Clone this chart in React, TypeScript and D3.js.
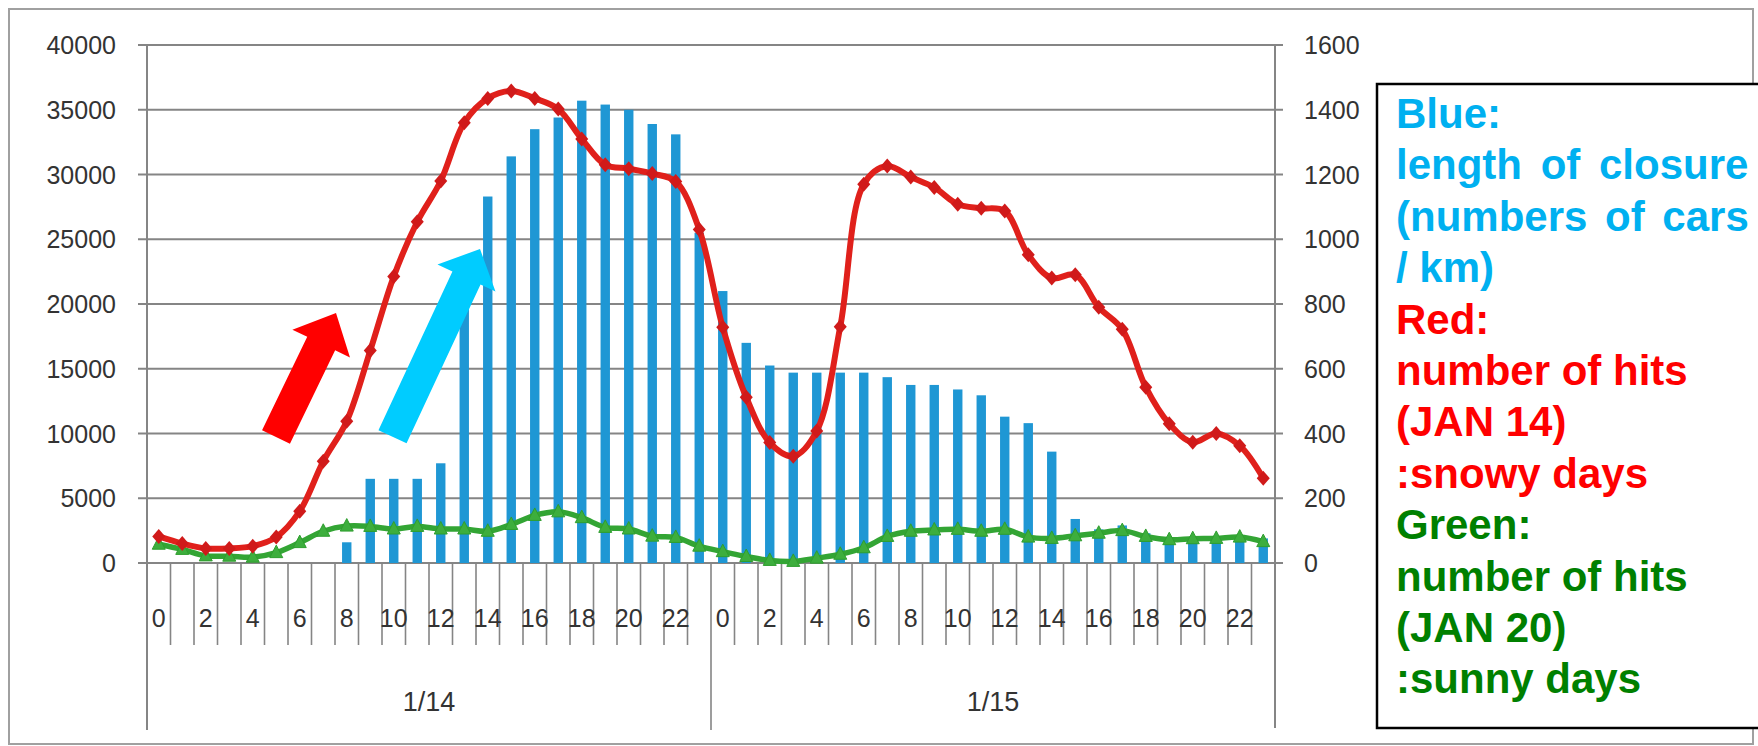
import React from "react";
import * as d3 from "d3";

const dayLabels = ["1/14", "1/15"];
const hourLabels = [
  "0", "1", "2", "3", "4", "5", "6", "7", "8", "9", "10", "11",
  "12", "13", "14", "15", "16", "17", "18", "19", "20", "21", "22", "23",
];
const categories = dayLabels.flatMap((d) => hourLabels.map((h) => `${d} ${h}`));

// Blue bars: length of closure (left axis)
const closure = [
  0, 0, 0, 0, 0, 0, 0, 0, 1600, 6500, 6500, 6500, 7700, 22000, 28300, 31400,
  33500, 34400, 35700, 35400, 35000, 33900, 33100, 25500,
  21000, 17000, 15250, 14700, 14700, 14700, 14700, 14350, 13750, 13750, 13400, 12950,
  11300, 10800, 8600, 3400, 2600, 2900, 2300, 2000, 2000, 2000, 2100, 1900,
];
// Red: number of hits JAN 14 (right axis)
const snowy = [
  82, 60, 45, 45, 52, 80, 160, 314, 438, 656, 885, 1054, 1180, 1360, 1435, 1458,
  1435, 1402, 1310, 1230, 1218, 1203, 1178, 1030,
  728, 512, 372, 330, 408, 730, 1170, 1226, 1192, 1160, 1108, 1096,
  1087, 952, 880, 890, 790, 722, 543, 430, 373, 400, 362, 262,
];
// Green: number of hits JAN 20 (right axis)
const sunny = [
  58, 42, 22, 21, 18, 32, 63, 98, 114, 113, 105, 113, 105, 105, 98, 119,
  147, 158, 140, 110, 105, 83, 79, 52,
  35, 20, 8, 5, 15, 27, 47, 82, 98, 102, 104, 98,
  104, 80, 76, 84, 92, 100, 82, 72, 75, 76, 80, 66,
];
const leftTicks = [0, 5000, 10000, 15000, 20000, 25000, 30000, 35000, 40000];
const rightTicks = [0, 200, 400, 600, 800, 1000, 1200, 1400, 1600];

const legendLines = [
  { t: "Blue:", c: "#00B0F0", ws: 0 },
  { t: "length of closure", c: "#00B0F0", ws: 7 },
  { t: "(numbers of cars", c: "#00B0F0", ws: 6 },
  { t: "/ km)", c: "#00B0F0", ws: 0 },
  { t: "Red:", c: "#FF0000", ws: 0 },
  { t: "number of hits", c: "#FF0000", ws: 0 },
  { t: "(JAN 14)", c: "#FF0000", ws: 0 },
  { t: ":snowy days", c: "#FF0000", ws: 0 },
  { t: "Green:", c: "#008000", ws: 0 },
  { t: "number of hits", c: "#008000", ws: 0 },
  { t: "(JAN 20)", c: "#008000", ws: 0 },
  { t: ":sunny days", c: "#008000", ws: 0 },
];

function arrowPath(tx: number, ty: number, hx: number, hy: number, sw: number, hw: number, hl: number) {
  const dx = hx - tx, dy = hy - ty;
  const len = Math.hypot(dx, dy);
  const ux = dx / len, uy = dy / len;
  const px = -uy, py = ux;
  const bx = hx - ux * hl, by = hy - uy * hl;
  const pts = [
    [tx + px * sw / 2, ty + py * sw / 2],
    [bx + px * sw / 2, by + py * sw / 2],
    [bx + px * hw / 2, by + py * hw / 2],
    [hx, hy],
    [bx - px * hw / 2, by - py * hw / 2],
    [bx - px * sw / 2, by - py * sw / 2],
    [tx - px * sw / 2, ty - py * sw / 2],
  ];
  return "M" + pts.map((p) => p.join(",")).join("L") + "Z";
}

export default function App() {
  const W = 1758, H = 746;
  const left = 147, right = 1275, top = 45, bottom = 563;
  const x = d3.scaleBand<string>().domain(categories).range([left, right]).padding(0);
  const bw = x.bandwidth();
  const cx = (c: string) => (x(c) as number) + bw / 2;
  const yL = d3.scaleLinear().domain([0, 40000]).range([bottom, top]);
  const yR = d3.scaleLinear().domain([0, 1600]).range([bottom, top]);

  const line = d3
    .line<number>()
    .x((_, i) => cx(categories[i]))
    .y((d) => yR(d))
    .curve(d3.curveCatmullRom.alpha(0.5));

  const gridColor = "#858585";
  const font = "'Liberation Sans', Arial, sans-serif";

  return (
    <svg
      width={W}
      height={H}
      style={{ position: "absolute", left: 0, top: 0, display: "block", background: "#fff" }}
    >
      <rect x={0} y={0} width={W} height={H} fill="#fff" />
      {/* outer chart border */}
      <rect x={9} y={9} width={1744} height={735} fill="none" stroke="#a0a0a0" strokeWidth={2} />

      {/* gridlines */}
      {leftTicks.map((t) => (
        <line key={"g" + t} x1={138} x2={1283} y1={yL(t)} y2={yL(t)} stroke={gridColor} strokeWidth={2} />
      ))}
      {/* axes */}
      <line x1={left} x2={left} y1={top} y2={730} stroke={gridColor} strokeWidth={2} />
      <line x1={right} x2={right} y1={top} y2={728} stroke={gridColor} strokeWidth={2} />

      {/* category ticks */}
      {categories.map((c, i) =>
        i === 0 ? null : (
          <line
            key={"t" + c}
            x1={x(c) as number}
            x2={x(c) as number}
            y1={bottom}
            y2={i === 24 ? 730 : 645}
            stroke={gridColor}
            strokeWidth={1.6}
          />
        )
      )}

      {/* left tick labels */}
      {leftTicks.map((t) => (
        <text key={"l" + t} x={116} y={yL(t)} textAnchor="end" dominantBaseline="central" fontFamily={font} fontSize={25} fill="#333">
          {t}
        </text>
      ))}
      {rightTicks.map((t) => (
        <text key={"r" + t} x={1304} y={yR(t)} textAnchor="start" dominantBaseline="central" fontFamily={font} fontSize={25} fill="#333">
          {t}
        </text>
      ))}

      {/* hour labels */}
      {categories.map((c, i) => {
        const h = hourLabels[i % 24];
        if (i % 2 !== 0) return null;
        return (
          <text key={"h" + c} x={cx(c)} y={618} textAnchor="middle" dominantBaseline="central" fontFamily={font} fontSize={25} fill="#333">
            {h}
          </text>
        );
      })}
      {/* day labels */}
      {dayLabels.map((d, k) => {
        const x0 = x(categories[k * 24]) as number;
        const x1 = (x(categories[k * 24 + 23]) as number) + bw;
        return (
          <text key={"d" + d} x={(x0 + x1) / 2} y={702} textAnchor="middle" dominantBaseline="central" fontFamily={font} fontSize={27} fill="#333">
            {d}
          </text>
        );
      })}

      {/* bars */}
      {categories.map((c, i) =>
        closure[i] > 0 ? (
          <rect
            key={"b" + c}
            x={(x(c) as number) + bw * 0.3}
            width={bw * 0.4}
            y={yL(closure[i])}
            height={bottom - yL(closure[i])}
            fill="#1F97D4"
          />
        ) : null
      )}

      {/* green line */}
      <path d={line(sunny) || ""} fill="none" stroke="#33A534" strokeWidth={5.5} strokeLinejoin="round" />
      {sunny.map((v, i) => {
        const px = cx(categories[i]);
        const py = yR(v);
        return (
          <path key={"gm" + i} d={`M${px},${py - 7.5}L${px + 6.5},${py + 5}L${px - 6.5},${py + 5}Z`} fill="#3DAE3D" stroke="#2E9E2E" strokeWidth={1} />
        );
      })}

      {/* red line */}
      <path d={line(snowy) || ""} fill="none" stroke="#E0201B" strokeWidth={6} strokeLinejoin="round" />
      {snowy.map((v, i) => {
        const px = cx(categories[i]);
        const py = yR(v);
        return (
          <path key={"rm" + i} d={`M${px},${py - 7.5}L${px + 6.5},${py}L${px},${py + 7.5}L${px - 6.5},${py}Z`} fill="#D01A1A" />
        );
      })}

      {/* annotation arrows */}
      <path d={arrowPath(276, 437, 336, 313, 31, 64, 34)} fill="#FF0000" />
      <path d={arrowPath(392.5, 436.7, 480, 249, 31, 64, 32)} fill="#00CCFF" />

      {/* legend box */}
      <rect x={1377} y={84} width={420} height={644} fill="#fff" stroke="#000" strokeWidth={2.5} />
      {legendLines.map((l, i) => (
        <text
          key={"lg" + i}
          x={1396}
          y={128 + i * 51.4}
          fontFamily={font}
          fontWeight="bold"
          fontSize={42}
          fill={l.c}
          style={{ wordSpacing: l.ws + "px" }}
        >
          {l.t}
        </text>
      ))}
    </svg>
  );
}
